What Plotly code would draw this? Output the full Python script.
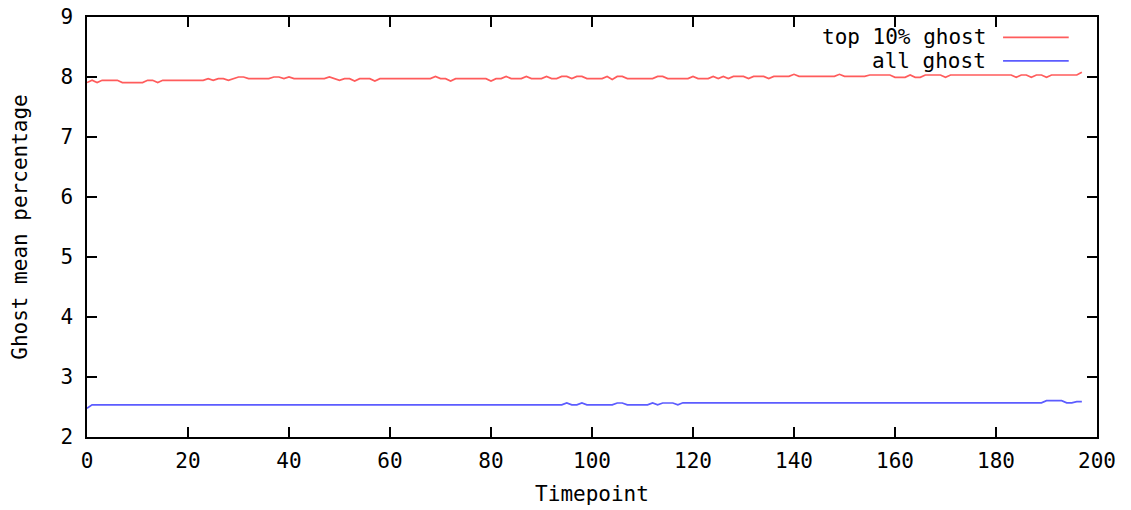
import plotly.graph_objects as go

timepoints = list(range(198))

top10_ghost = [
    7.907, 7.945, 7.907, 7.945, 7.945, 7.945, 7.945, 7.907, 7.907, 7.907,
    7.907, 7.907, 7.945, 7.945, 7.907, 7.945, 7.945, 7.945, 7.945, 7.945,
    7.945, 7.945, 7.945, 7.945, 7.973, 7.945, 7.973, 7.973, 7.945, 7.973,
    8.000, 8.000, 7.973, 7.973, 7.973, 7.973, 7.973, 8.000, 8.000, 7.973,
    8.000, 7.973, 7.973, 7.973, 7.973, 7.973, 7.973, 7.973, 8.000, 7.973,
    7.945, 7.973, 7.973, 7.933, 7.973, 7.973, 7.973, 7.933, 7.973, 7.973,
    7.973, 7.973, 7.973, 7.973, 7.973, 7.973, 7.973, 7.973, 7.973, 8.010,
    7.973, 7.973, 7.933, 7.973, 7.973, 7.973, 7.973, 7.973, 7.973, 7.973,
    7.933, 7.973, 7.973, 8.010, 7.973, 7.973, 7.973, 8.010, 7.973, 7.973,
    7.973, 8.010, 7.973, 7.973, 8.010, 8.010, 7.973, 8.010, 8.010, 7.973,
    7.973, 7.973, 7.973, 8.010, 7.960, 8.010, 8.010, 7.973, 7.973, 7.973,
    7.973, 7.973, 7.973, 8.010, 8.010, 7.973, 7.973, 7.973, 7.973, 7.973,
    8.010, 7.973, 7.973, 7.973, 8.010, 7.973, 8.010, 7.973, 8.010, 8.010,
    8.010, 7.973, 8.010, 8.010, 8.010, 7.973, 8.010, 8.010, 8.010, 8.010,
    8.045, 8.010, 8.010, 8.010, 8.010, 8.010, 8.010, 8.010, 8.010, 8.045,
    8.010, 8.010, 8.010, 8.010, 8.010, 8.033, 8.033, 8.033, 8.033, 8.033,
    7.995, 7.995, 7.995, 8.033, 7.995, 7.995, 8.033, 8.033, 8.033, 8.033,
    7.995, 8.033, 8.033, 8.033, 8.033, 8.033, 8.033, 8.033, 8.033, 8.033,
    8.033, 8.033, 8.033, 8.033, 7.995, 8.033, 8.033, 7.995, 8.033, 8.033,
    7.995, 8.033, 8.033, 8.033, 8.033, 8.033, 8.033, 8.080,
]

all_ghost = [2.480] + [2.535] * 94 + [
    2.567, 2.535, 2.535, 2.567, 2.535, 2.535, 2.535, 2.535, 2.535, 2.535,
    2.567, 2.567, 2.535, 2.535, 2.535, 2.535, 2.535, 2.567, 2.535, 2.567,
    2.567, 2.567, 2.535,
] + [2.570] * 72 + [2.605, 2.605, 2.605, 2.605, 2.570, 2.570, 2.590, 2.590]

series_names = ["top 10% ghost", "all ghost"]
series_colors = ["#ff5c5c", "#5c5cff"]

x_ticks = list(range(0, 201, 20))
y_ticks = list(range(2, 10))

FONT = "DejaVu Sans Mono"
FS = 21

fig = go.Figure()
for name, ys, col in zip(series_names, [top10_ghost, all_ghost], series_colors):
    fig.add_trace(go.Scatter(x=timepoints, y=ys, mode="lines", name=name,
                             line=dict(color=col, width=1.7), showlegend=False))

# gnuplot-style legend: text right-aligned, sample line to the right
legend_y = [0.9515, 0.8956]
shapes = []
annotations = []
for name, col, ly in zip(series_names, series_colors, legend_y):
    annotations.append(dict(xref="paper", yref="paper", x=0.892, y=ly, text=name,
                            showarrow=False, xanchor="right", yanchor="middle",
                            font=dict(family=FONT, size=FS, color="black")))
    shapes.append(dict(type="line", xref="paper", yref="paper", x0=0.907, x1=0.972,
                       y0=ly, y1=ly, line=dict(color=col, width=1.7)))

axis_common = dict(showline=True, linecolor="black", linewidth=1.5, mirror="allticks",
                   ticks="inside", ticklen=10, tickwidth=1.5, tickcolor="black",
                   showgrid=False, zeroline=False, automargin=False,
                   tickfont=dict(family=FONT, size=FS, color="black"))

fig.update_layout(
    width=1131, height=510,
    margin=dict(l=87, r=34, t=17, b=73),
    paper_bgcolor="white", plot_bgcolor="white",
    shapes=shapes, annotations=annotations,
    xaxis=dict(range=[0, 200], tickvals=x_ticks, ticklabelstandoff=4,
               title=dict(text="Timepoint", font=dict(family=FONT, size=FS, color="black"), standoff=14),
               **axis_common),
    yaxis=dict(range=[2, 9], tickvals=y_ticks, ticklabelstandoff=8,
               title=dict(text="Ghost mean percentage", font=dict(family=FONT, size=FS, color="black"), standoff=27),
               **axis_common),
)

# remove the default 8px page margin so the figure fills the window exactly
fig.write_html("out.html", config={"displayModeBar": False},
               post_script="document.body.style.margin='0px';")
